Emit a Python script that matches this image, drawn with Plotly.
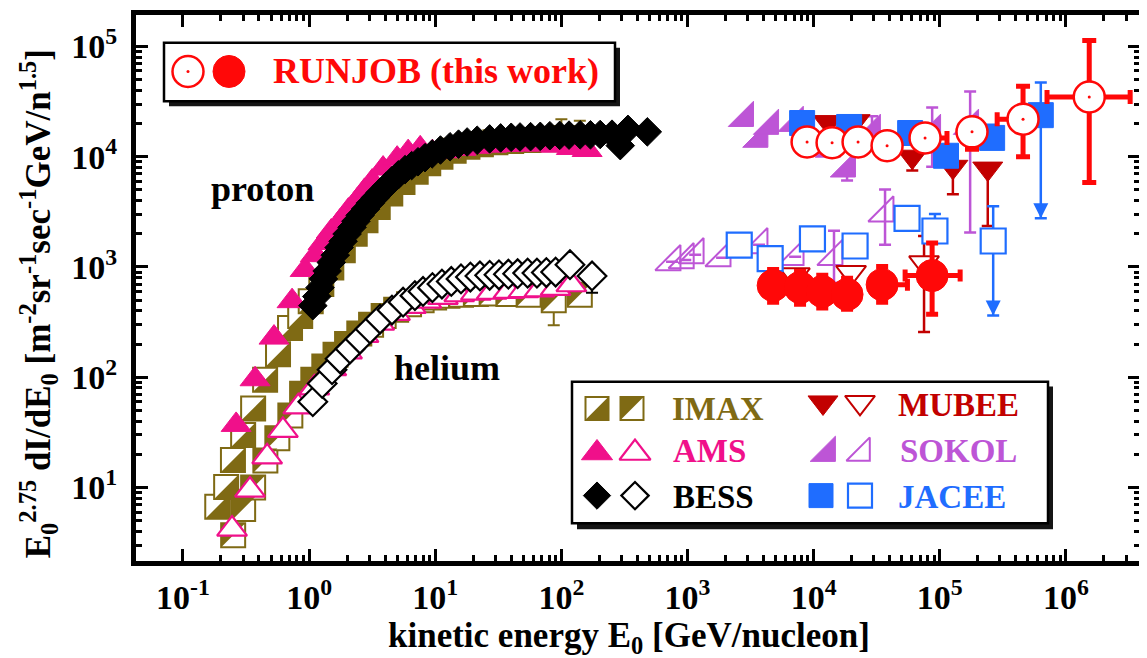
import plotly.graph_objects as go

FONT = "Liberation Serif"

# ---------------- data ----------------
# E0 = kinetic energy [GeV/nucleon], F = E0^2.75 dI/dE0
# proton (filled symbols)
imax_p_E = [0.187, 0.22, 0.249, 0.30, 0.36, 0.448, 0.567, 0.706, 0.85, 1.03, 1.25, 1.5, 1.85, 2.3, 2.8,
            3.5, 4.4, 5.5, 7.0, 8.8, 11, 14, 18, 23, 30, 40, 55, 75, 100, 140]
imax_p_F = [6.7, 10.1, 17.8, 30, 52, 95, 162, 280, 360, 490, 700, 990, 1420, 2000, 2650,
            3500, 4650, 5900, 7300, 8700, 10000, 11300, 12300, 13000, 13500, 13900, 14200, 14400, 14800, 14800]
imax_p_hi = [None] * 28 + [21800, 21200]

ams_p_E = [0.264, 0.373, 0.527, 0.733, 0.93, 1.12, 1.29, 1.5, 1.76, 2.05, 2.40, 2.75, 3.16, 3.86, 4.99,
           6.1, 7.6, 9.5, 12, 16, 21, 28, 38, 50, 68, 90, 120, 160]
ams_p_F = [37, 96, 229, 490, 940, 1280, 1650, 2100, 2590, 3250, 4000, 4900, 5950, 7800, 9600,
           11000, 11900, 11000, 11200, 11800, 12300, 12600, 12800, 12900, 12900, 12600, 12000, 11500]

bess_p_E = [1.07, 1.15, 1.22, 1.3, 1.39, 1.5, 1.61, 1.73, 1.86, 2.0, 2.19, 2.35, 2.54, 2.8, 3.05, 3.35,
            3.66, 4.1, 4.55, 5.1, 5.77, 6.5, 7.3, 8.3, 9.45, 11, 13.1, 15.3, 17.9, 21.5, 27, 33, 40, 47,
            57, 68, 81, 97, 115, 141, 170, 203, 252, 293, 337, 480]
bess_p_F = [446, 540, 650, 780, 920, 1100, 1280, 1500, 1710, 1990, 2290, 2600, 2940, 3350, 3780, 4250,
            4740, 5400, 6080, 6850, 7640, 8300, 9000, 9800, 10600, 11500, 12300, 13000, 13600, 14100, 14500,
            14800, 15000, 15100, 15200, 15300, 15500, 15600, 15700, 15800, 15800, 15900, 16000, 12600, 17700, 16800]

mubee_p_E = [13000, 21300, 60500, 127000, 240000]
mubee_p_F = [20600, 21000, 10000, 8100, 7800]
mubee_p_lo = [None, None, 7500, 4560, 2350]

sokol_p_E = [2860, 3720, 4520, 7100, 14000, 18400, 29000, 87000, 174000]
sokol_p_F = [22400, 14500, 19000, 20200, 11800, 7800, 17100, 17100, 19000]
sokol_p_lo = [None, None, None, None, None, 6100, None, 8100, 2050]
sokol_p_hi = [None, None, None, None, None, None, 23300, 28000, 39000]

jacee_p_E = [8100, 19100, 58200, 112000, 260000, 632000]
jacee_p_F = [20200, 18600, 16400, 10200, 14800, 23800]
jacee_p_lo = [None, None, None, 8300, None, 2770]
jacee_p_hi = [None, None, None, None, 19500, 47000]
jacee_p_limit_E = [632000]
jacee_p_limit_F = [2770]

runjob_p_E = [8870, 14000, 22500, 38200, 76400, 180000, 457000, 1530000]
runjob_p_F = [13600, 13400, 13600, 12600, 14800, 16800, 21900, 34800]
runjob_p_lo = [None, None, None, None, None, 11700, 10000, 5830]
runjob_p_hi = [None, None, None, None, None, 20000, 43600, 113000]
runjob_p_xlo = [None, None, None, None, None, None, 285000, 708000]
runjob_p_xhi = [None, None, None, None, 114000, None, None, 3230000]

# helium (open symbols)
imax_he_E = [0.25, 0.30, 0.36, 0.45, 0.56, 0.71, 0.88, 1.08, 1.32, 1.62, 2.0, 2.5, 3.1, 3.9, 4.9, 6.2,
             7.8, 9.8, 12.5, 16, 21, 28, 38, 55, 87, 140]
imax_he_F = [3.7, 6.4, 10, 17.6, 28, 45, 71, 95, 125, 160, 200, 250, 300, 360, 410, 460,
             500, 530, 550, 560, 570, 575, 570, 560, 500, 560]
imax_he_lo = [None] * 24 + [296, None]

ams_he_E = [0.245, 0.34, 0.465, 0.62, 0.82, 1.1, 1.5, 2.0, 2.7, 3.6, 4.8, 6.4, 8.5, 11.5, 15.5, 21, 28,
            38, 50, 67, 90, 120]
ams_he_F = [4.2, 9.5, 19, 33, 54, 80, 120, 170, 240, 310, 380, 440, 490, 530, 560, 580, 590,
            600, 610, 620, 640, 690]

bess_he_E = [1.07, 1.27, 1.52, 1.76, 2.11, 2.53, 3.04, 3.65, 4.54, 5.56, 6.9, 8.0, 9.5, 11.3, 13.4, 16,
             19, 22.6, 27, 32, 38, 45, 54, 64, 76, 90, 117, 175]
bess_he_F = [60, 88, 117, 147, 181, 222, 274, 337, 407, 480, 550, 600, 650, 700, 740, 780,
             810, 830, 840, 850, 860, 870, 880, 880, 890, 900, 1050, 830]
bess_he_lo = [None] * 27 + [585]

mubee_he_E = [7100, 19800, 75000]
mubee_he_F = [850, 890, 1090]
mubee_he_lo = [None, None, 257]
mubee_he_hi = [None, 1010, 1910]

sokol_he_E = [754, 960, 1150, 1880, 3690, 7130, 14500, 36800]
sokol_he_F = [1116, 1160, 1290, 1210, 1590, 1240, 1240, 3080]
sokol_he_lo = [None, None, None, None, None, None, 720, 1590]
sokol_he_hi = [None, None, None, None, None, None, 2130, 5050]

jacee_he_E = [2570, 4520, 9780, 21300, 55000, 91500, 265000]
jacee_he_F = [1580, 1190, 1800, 1550, 2760, 2120, 1720]
jacee_he_lo = [None, None, None, None, None, None, 363]
jacee_he_hi = [None, None, None, None, None, 3020, 3560]
jacee_he_limit_E = [265000]
jacee_he_limit_F = [363]

runjob_he_E = [4770, 7800, 11700, 18400, 34900, 86900]
runjob_he_F = [680, 652, 600, 564, 692, 836]
runjob_he_lo = [478, 460, 425, 414, 478, 373]
runjob_he_hi = [950, 910, 840, 790, 1010, 1650]
runjob_he_xlo = [None, None, None, None, None, 53100]
runjob_he_xhi = [None, None, None, None, 55400, 145000]

x_tick_vals = [0.1, 1, 10, 100, 1e3, 1e4, 1e5, 1e6]
x_tick_text = ["10<sup>-1</sup>", "10<sup>0</sup>", "10<sup>1</sup>", "10<sup>2</sup>", "10<sup>3</sup>",
               "10<sup>4</sup>", "10<sup>5</sup>", "10<sup>6</sup>"]
y_tick_vals = [10, 100, 1e3, 1e4, 1e5]
y_tick_text = ["10<sup>1</sup>", "10<sup>2</sup>", "10<sup>3</sup>", "10<sup>4</sup>", "10<sup>5</sup>"]

# ---------------- geometry / style ----------------
W, H = 1147, 658
PAGE = 8                       # page body margin of the html document
PX_L, PX_R, PX_T, PX_B = 136, 1140, 10, 561   # plot-area edges in page pixels
ML, MR = PX_L - PAGE, W - (PX_R - PAGE)
MT, MB = PX_T - PAGE, H - (PX_B - PAGE)
X0_PX, X_PPD = 309.1, 126.14   # page x of 10^0 and pixels per decade
Y3_PX, Y_PPD = 264.3, 111.3    # page y of 10^3 and pixels per decade
X_RANGE = [(PX_L - X0_PX) / X_PPD, (PX_R - X0_PX) / X_PPD]
Y_RANGE = [3 - (PX_B - Y3_PX) / Y_PPD, 3 + (Y3_PX - PX_T) / Y_PPD]

OLIVE = "#7f6a14"
PINK = "#f0108a"
DRED = "#c20000"
PURPLE = "#bd55d6"
BLUE = "#1f6dff"
RED = "#ff0808"

fig = go.Figure()


def ebar(F, lo, hi, color, th=2.0, w=6):
    plus = [0 if h is None else h - f for f, h in zip(F, hi)]
    minus = [0 if l is None else f - l for f, l in zip(F, lo)]
    return dict(type="data", symmetric=False, array=plus, arrayminus=minus,
                color=color, thickness=th, width=w)


def pts(E, F, symbol, size, fill, line, lw=2.0, ey=None, ex=None, xa="x", ya="y"):
    fig.add_trace(go.Scatter(
        x=E, y=F, mode="markers", xaxis=xa, yaxis=ya,
        marker=dict(symbol=symbol, size=size, color=fill, line=dict(color=line, width=lw)),
        error_y=ey, error_x=ex, showlegend=False, hoverinfo="skip"))


SQ = 24            # IMAX square side (px)
TRI = SQ / 0.9     # right-triangle marker size whose legs equal the square side
OFF = SQ / 6.0     # centroid offset of that triangle from the square centre (px)


def imax_marks(E, F, corner, ey=None):
    pts(E, F, "square", SQ, "white", OLIVE, 2, ey=ey)
    sx = OFF if corner == "se" else -OFF
    sy = -OFF if corner == "se" else OFF
    Et = [e * 10 ** (sx / X_PPD) for e in E]
    Ft = [f * 10 ** (sy / Y_PPD) for f in F]
    pts(Et, Ft, "triangle-" + corner, TRI, OLIVE, OLIVE, 0)


imax_marks(imax_he_E, imax_he_F, "nw", ey=ebar(imax_he_F, imax_he_lo, [None] * len(imax_he_F), OLIVE))
imax_marks(imax_p_E, imax_p_F, "se", ey=ebar(imax_p_F, [None] * len(imax_p_F), imax_p_hi, OLIVE))
pts(ams_he_E, ams_he_F, "triangle-up", 26, "white", PINK, 2.2)
pts(ams_p_E, ams_p_F, "triangle-up", 26, PINK, PINK, 1)
pts(bess_he_E, bess_he_F, "diamond", 22, "white", "black", 2.2,
    ey=ebar(bess_he_F, bess_he_lo, [None] * len(bess_he_F), "black"))
pts(bess_p_E, bess_p_F, "diamond", 22, "black", "black", 1)

pts(sokol_he_E, sokol_he_F, "triangle-se-open", 28, PURPLE, PURPLE, 2,
    ey=ebar(sokol_he_F, sokol_he_lo, sokol_he_hi, PURPLE, 2.5, 6))
pts(sokol_p_E, sokol_p_F, "triangle-se", 28, PURPLE, PURPLE, 1,
    ey=ebar(sokol_p_F, sokol_p_lo, sokol_p_hi, PURPLE, 2.5, 6))
pts(mubee_he_E, mubee_he_F, "triangle-down", 26, "white", DRED, 2,
    ey=ebar(mubee_he_F, mubee_he_lo, mubee_he_hi, DRED, 2.5, 6))
pts(mubee_p_E, mubee_p_F, "triangle-down", 26, DRED, DRED, 1,
    ey=ebar(mubee_p_F, mubee_p_lo, [None] * len(mubee_p_F), DRED, 2.5, 6))
pts(jacee_he_E, jacee_he_F, "square", 25, "white", BLUE, 2.2,
    ey=ebar(jacee_he_F, jacee_he_lo, jacee_he_hi, BLUE, 2.5, 6))
pts(jacee_p_E, jacee_p_F, "square", 25, BLUE, BLUE, 1,
    ey=ebar(jacee_p_F, jacee_p_lo, jacee_p_hi, BLUE, 2.5, 6))
pts(jacee_p_limit_E + jacee_he_limit_E, jacee_p_limit_F + jacee_he_limit_F, "arrow-down", 15, BLUE, BLUE, 0)

pts(runjob_he_E, runjob_he_F, "circle", 32, RED, RED, 1,
    ey=ebar(runjob_he_F, runjob_he_lo, runjob_he_hi, RED, 5, 6),
    ex=ebar(runjob_he_E, runjob_he_xlo, runjob_he_xhi, RED, 5, 6))
pts(runjob_p_E, runjob_p_F, "circle", 31, "white", RED, 2.5,
    ey=ebar(runjob_p_F, runjob_p_lo, runjob_p_hi, RED, 5, 7),
    ex=ebar(runjob_p_E, runjob_p_xlo, runjob_p_xhi, RED, 5, 7))
pts(runjob_p_E, runjob_p_F, "circle", 3, RED, RED, 0)

# ---------------- legend (drawn on an overlay axis in page-pixel units) ----------------
L2 = dict(xa="x2", ya="y2")
pts([188], [67], "circle", 31, "white", RED, 2.5, **L2)
pts([188], [67], "circle", 3, RED, RED, 0, **L2)
pts([229], [67], "circle", 32, RED, RED, 1, **L2)

pts([597, 632], [407, 407], "square", 23, "white", OLIVE, 2, **L2)
pts([597 + 23 / 6], [407 + 23 / 6], "triangle-se", 23 / 0.9, OLIVE, OLIVE, 0, **L2)
pts([632 - 23 / 6], [407 - 23 / 6], "triangle-nw", 23 / 0.9, OLIVE, OLIVE, 0, **L2)
pts([597], [452], "triangle-up", 27, PINK, PINK, 1, **L2)
pts([635], [452], "triangle-up", 27, "white", PINK, 2.2, **L2)
pts([597], [495], "diamond", 21, "black", "black", 1, **L2)
pts([635], [495], "diamond", 21, "white", "black", 2.2, **L2)
pts([823], [401], "triangle-down", 26, DRED, DRED, 1, **L2)
pts([860], [401], "triangle-down", 26, "white", DRED, 2, **L2)
pts([827], [452], "triangle-se", 28, PURPLE, PURPLE, 1, **L2)
pts([862], [452], "triangle-se-open", 26, PURPLE, PURPLE, 2, **L2)
pts([821], [495], "square", 24, BLUE, BLUE, 1, **L2)
pts([860], [495], "square", 24, "white", BLUE, 2.2, **L2)

shapes = [
    dict(type="rect", xref="x2", yref="y2", x0=169, y0=43, x1=620, y1=102,
         fillcolor="#151515", line=dict(width=0), layer="below"),
    dict(type="rect", xref="x2", yref="y2", x0=164, y0=38, x1=615, y1=97,
         fillcolor="white", line=dict(color="black", width=2.5), layer="below"),
    dict(type="rect", xref="x2", yref="y2", x0=577, y0=385, x1=1053, y1=529,
         fillcolor="#151515", line=dict(width=0), layer="below"),
    dict(type="rect", xref="x2", yref="y2", x0=572, y0=380, x1=1048, y1=523,
         fillcolor="white", line=dict(color="black", width=2.5), layer="below"),
]


def txt(x, y, s, color="black", size=33, xanchor="left", angle=0, paper=False):
    if paper:
        x = (x - PX_L) / (PX_R - PX_L)
        y = (PX_B - y) / (PX_B - PX_T)
    return dict(x=x, y=y, xref="paper" if paper else "x2", yref="paper" if paper else "y2",
                text=s, showarrow=False, xanchor=xanchor, yanchor="middle", textangle=angle,
                font=dict(family=FONT, size=size, color=color, weight="bold"))


annotations = [
    txt(271, 67, "RUNJOB (this work)", RED, 36),
    txt(670, 408, "IMAX", OLIVE),
    txt(671, 450, "AMS", PINK),
    txt(671, 496, "BESS", "black"),
    txt(896, 404, "MUBEE", DRED),
    txt(898, 450, "SOKOL", PURPLE),
    txt(896, 496, "JACEE", BLUE),
    txt(262, 186, "proton", "black", 36, "center"),
    txt(447, 366, "helium", "black", 36, "center"),
    txt(629, 638, "kinetic energy E<sub>0</sub> [GeV/nucleon]", "black", 35, "center", paper=True),
    txt(38, 302, "E<sub>0</sub><sup>2.75</sup> dI/dE<sub>0</sub> [m<sup>-2</sup>sr<sup>-1</sup>"
                 "sec<sup>-1</sup>GeV/n<sup>1.5</sup>]", "black", 35, "center", -90, paper=True),
]

minor_x = [m * 10 ** k for k in range(-1, 7) for m in range(2, 10)]
minor_y = [m * 10 ** k for k in range(0, 6) for m in range(2, 10)]

axis_common = dict(
    type="log", showline=True, linecolor="black", linewidth=5, mirror="ticks",
    ticks="inside", ticklen=12, tickwidth=3, tickcolor="black",
    showgrid=False, zeroline=False, tickmode="array",
    tickfont=dict(family=FONT, size=34, color="black", weight="bold"),
)

fig.update_layout(
    width=W, height=H,
    margin=dict(l=ML, r=MR, t=MT, b=MB),
    paper_bgcolor="white", plot_bgcolor="rgba(0,0,0,0)",
    font=dict(family=FONT, color="black"),
    showlegend=False,
    xaxis=dict(axis_common, range=X_RANGE, tickvals=x_tick_vals, ticktext=x_tick_text,
               ticklabelstandoff=2,
               minor=dict(tickmode="array", tickvals=minor_x, ticks="inside", ticklen=6,
                          tickwidth=3, tickcolor="black", showgrid=False)),
    yaxis=dict(axis_common, range=Y_RANGE, tickvals=y_tick_vals, ticktext=y_tick_text,
               ticklabelstandoff=7,
               minor=dict(tickmode="array", tickvals=minor_y, ticks="inside", ticklen=6,
                          tickwidth=3, tickcolor="black", showgrid=False)),
    xaxis2=dict(overlaying="x", anchor="y2", range=[PX_L, PX_R], visible=False),
    yaxis2=dict(overlaying="y", anchor="x2", range=[PX_B, PX_T], visible=False),
    shapes=shapes,
    annotations=annotations,
)

fig.write_html("out.html")
